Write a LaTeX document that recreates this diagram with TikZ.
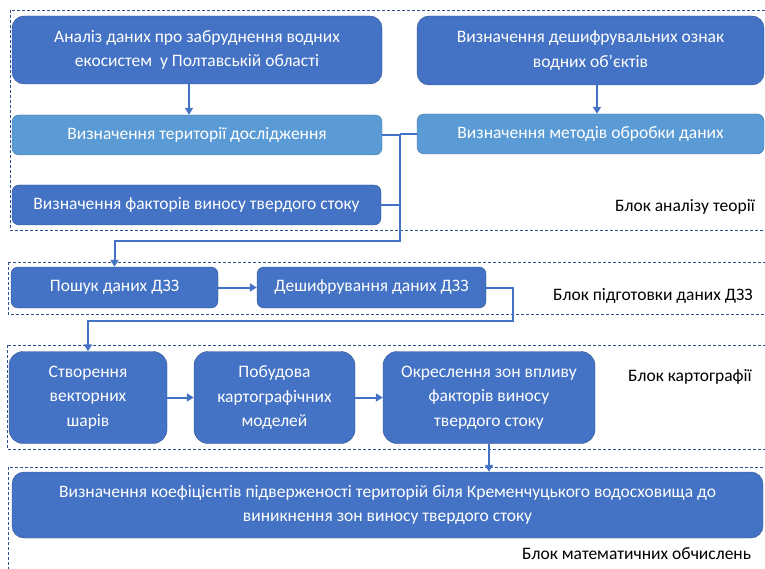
\documentclass[tikz,border=0pt]{standalone}
\usepackage{fontspec}
\setmainfont{Carlito}
\usepackage{tikz}
\usetikzlibrary{calc}
\usetikzlibrary{arrows.meta}
\definecolor{boxdark}{HTML}{4472C4}
\definecolor{boxlight}{HTML}{5B9BD5}
\definecolor{boxedge}{HTML}{2F528F}
\definecolor{lightedge}{HTML}{41719C}
\tikzset{
  darkbox/.style={draw=boxedge, fill=boxdark, rounded corners=#1, text=white, align=center, inner sep=0pt, font=\fontsize{17.5}{24.5}\selectfont},
  darkbox/.default=7pt,
  lightbox/.style={darkbox=#1, draw=lightedge, fill=boxlight},
  lightbox/.default=7pt,
  labeltext/.style={inner sep=0pt, text=black, font=\fontsize{17.5}{24.5}\selectfont},
  frameline/.style={draw=boxedge, line width=0.8pt, dash pattern=on 3pt off 2pt},
  link/.style={draw=boxdark, line width=2pt},
  arr/.style={link, -{Triangle[width=8pt,length=7pt]}}
}
\newcommand{\blockframe}[4]{ \draw[frameline] ( #1 , #2 ) rectangle ( #3 , #4 );}
\newcommand{\blocklabel}[4]{\node[labeltext, anchor=west] (#1) at ( #2 , #3 ) {#4};}
\begin{document}
\begin{tikzpicture}[x=1pt,y=-1pt]
        \useasboundingbox (0,0) rectangle (765,569);
        \clip (0,0) rectangle (765,569);
        \blockframe{10}{10}{770}{230}
        \blockframe{8}{262}{770}{314}
        \blockframe{7}{345}{770}{449}
        \blockframe{8}{467}{770}{580}
        % block 1
        \node[darkbox=12pt, minimum width=370pt, minimum height=68pt] (analiz) at (197,50) {Аналіз даних про забруднення водних\\екосистем\ \ у Полтавській області};
        \node[darkbox=12pt, minimum width=347pt, minimum height=69pt] (oznaky) at (590.5,50.5) {Визначення дешифрувальних ознак\\водних об’єктів};
        \node[lightbox, minimum width=370pt, minimum height=40pt] (terytoriia) at (197,135) {Визначення території дослідження};
        \node[lightbox, minimum width=347pt, minimum height=40pt] (metody) at (590.5,134) {Визначення методів обробки даних};
        \node[darkbox, minimum width=369pt, minimum height=40pt] (faktory) at (196.5,205) {Визначення факторів виносу твердого стоку};
        \blocklabel{labA}{615}{207}{Блок аналізу теорії}
        % block 2
        \node[darkbox, minimum width=207pt, minimum height=41pt] (poshuk) at (114.5,287.5) {Пошук даних ДЗЗ};
        \node[darkbox, minimum width=229pt, minimum height=41pt] (deshyf) at (371.5,287.5) {Дешифрування даних ДЗЗ};
        \blocklabel{labB}{553}{296}{Блок підготовки даних ДЗЗ}
        % block 3
        \node[darkbox=14pt, minimum width=158pt, minimum height=92pt] (stvorennia) at (88,397.5) {Створення\\векторних\\шарів};
        \node[darkbox=14pt, minimum width=161pt, minimum height=92pt] (pobudova) at (274.5,397.5) {Побудова\\картографічних\\моделей};
        \node[darkbox=14pt, minimum width=212pt, minimum height=92pt] (okreslennia) at (489,397.5) {Окреслення зон впливу\\факторів виносу\\твердого стоку};
        \blocklabel{labC}{628}{377}{Блок картографії}
        % block 4
        \node[darkbox=12pt, minimum width=751pt, minimum height=66pt] (koef) at (387.5,505) {Визначення коефіцієнтів підверженості територій біля Кременчуцького водосховища до\\виникнення зон виносу твердого стоку};
        \blocklabel{labD}{522}{554}{Блок математичних обчислень}
        % connectors
        \coordinate (jbot) at (400,241);
        \coordinate (zlam) at (513,321);
        \draw[arr] ([xshift=-8pt]analiz.south) -- ([xshift=-8pt]terytoriia.north);
        \draw[arr] ([xshift=6.5pt]oznaky.south) -- ([xshift=6.5pt]metody.north);
        \draw[link] (metody.west) -- (metody.west -| jbot);
        \draw[link] (faktory.east) -- (faktory.east -| jbot);
        \draw[arr] (terytoriia.east) -| (jbot) -| (poshuk.north);
        \draw[arr] (poshuk.east) -- (deshyf.west);
        \draw[arr] (deshyf.east) -| (zlam) -| (stvorennia.north);
        \draw[arr] (stvorennia.east) -- (pobudova.west);
        \draw[arr] (pobudova.east) -- (okreslennia.west);
        \draw[arr] (okreslennia.south) -- (okreslennia.south |- koef.north);
    \end{tikzpicture}
\end{document}
